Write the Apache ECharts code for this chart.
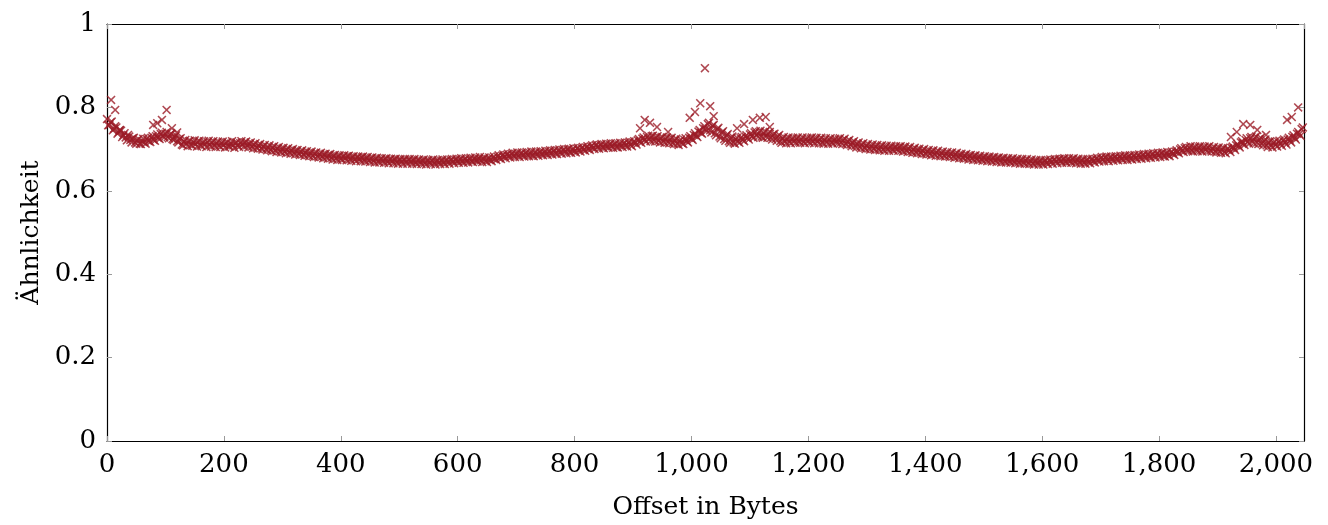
<!DOCTYPE html>
<html>
<head>
<meta charset="utf-8">
<script src="https://cdn.jsdelivr.net/npm/echarts@6/dist/echarts.min.js"></script>
<style>
html,body{margin:0;padding:0;background:#fff;}
#chart{width:1328px;height:525px;}
</style>
</head>
<body>
<div id="chart"></div>
<script>
// Offset step of the sampled points (bytes)
const offsetStep = 4;
// Similarity values at offsets 0,4,8,...,2044 (16 per row)
const similarityA = [
0.772,0.758,0.766,0.749,0.752,0.741,0.744,0.733,0.728,0.734,0.722,0.726,0.716,0.722,0.713,0.719,
0.716,0.724,0.719,0.727,0.722,0.731,0.727,0.736,0.731,0.737,0.729,0.735,0.724,0.730,0.719,0.724,
0.711,0.718,0.713,0.719,0.710,0.716,0.712,0.718,0.709,0.715,0.711,0.717,0.710,0.716,0.709,0.715,
0.708,0.714,0.710,0.715,0.707,0.713,0.709,0.715,0.708,0.714,0.711,0.716,0.709,0.713,0.706,0.711,
0.704,0.709,0.702,0.707,0.700,0.705,0.698,0.704,0.697,0.702,0.695,0.701,0.694,0.699,0.693,0.697,
0.691,0.696,0.689,0.694,0.688,0.692,0.686,0.691,0.684,0.690,0.683,0.688,0.682,0.687,0.681,0.686,
0.679,0.684,0.678,0.683,0.677,0.682,0.678,0.683,0.676,0.681,0.675,0.680,0.676,0.680,0.674,0.679,
0.673,0.678,0.672,0.677,0.671,0.676,0.672,0.676,0.670,0.675,0.671,0.675,0.669,0.674,0.670,0.674,
0.669,0.674,0.670,0.673,0.668,0.673,0.669,0.672,0.667,0.672,0.668,0.672,0.667,0.671,0.668,0.672,
0.668,0.672,0.669,0.673,0.670,0.674,0.671,0.675,0.671,0.675,0.672,0.676,0.671,0.676,0.673,0.677,
0.673,0.677,0.672,0.676,0.674,0.678,0.677,0.682,0.679,0.684,0.682,0.686,0.683,0.688,0.684,0.688,
0.684,0.689,0.685,0.690,0.686,0.690,0.685,0.691,0.687,0.692,0.688,0.692,0.689,0.694,0.690,0.695,
0.690,0.696,0.692,0.697,0.694,0.699,0.693,0.698,0.695,0.701,0.697,0.702,0.699,0.704,0.701,0.706,
0.703,0.709,0.705,0.710,0.704,0.709,0.706,0.711,0.707,0.712,0.705,0.711,0.708,0.713,0.709,0.715,
0.710,0.716,0.715,0.721,0.718,0.725,0.722,0.729,0.724,0.731,0.722,0.728,0.720,0.727,0.719,0.725,
0.717,0.724,0.715,0.722,0.713,0.720,0.714,0.722,0.719,0.727,0.725,0.734,0.732,0.742,0.739,0.750,
0.748,0.760,0.745,0.756,0.738,0.748,0.730,0.740,0.724,0.733,0.719,0.727,0.716,0.724,0.718,0.726,
0.722,0.730,0.727,0.735,0.731,0.740,0.733,0.741,0.730,0.739,0.731,0.738,0.727,0.735,0.724,0.731,
0.719,0.726,0.718,0.725,0.717,0.724,0.719,0.725,0.718,0.724,0.717,0.723,0.719,0.725,0.718,0.724,
0.718,0.724,0.716,0.722,0.717,0.723,0.716,0.721,0.718,0.723,0.716,0.722,0.713,0.719,0.711,0.716,
0.708,0.713,0.705,0.711,0.703,0.709,0.702,0.708,0.701,0.707,0.700,0.706,0.699,0.705,0.700,0.705,
0.699,0.704,0.700,0.705,0.698,0.703,0.697,0.702,0.695,0.700,0.693,0.698,0.692,0.697,0.690,0.695,
0.689,0.694,0.688,0.693,0.686,0.691,0.685,0.690,0.684,0.689,0.683,0.688,0.682,0.686,0.680,0.685,
0.679,0.684,0.678,0.683,0.677,0.681,0.676,0.680,0.675,0.679,0.674,0.679,0.673,0.678,0.672,0.677,
0.671,0.676,0.671,0.675,0.670,0.674,0.669,0.673,0.668,0.673,0.667,0.672,0.666,0.671,0.667,0.671,
0.666,0.671,0.667,0.672,0.669,0.674,0.670,0.675,0.671,0.676,0.670,0.675,0.671,0.676,0.670,0.674,
0.669,0.673,0.668,0.673,0.669,0.674,0.671,0.676,0.673,0.678,0.675,0.680,0.674,0.679,0.676,0.680,
0.676,0.681,0.677,0.682,0.678,0.682,0.677,0.683,0.679,0.684,0.680,0.685,0.681,0.686,0.682,0.687,
0.683,0.688,0.685,0.690,0.684,0.689,0.686,0.691,0.689,0.694,0.693,0.699,0.696,0.702,0.698,0.703,
0.697,0.703,0.698,0.704,0.697,0.703,0.699,0.704,0.697,0.702,0.695,0.701,0.694,0.700,0.693,0.699,
0.697,0.703,0.702,0.709,0.708,0.716,0.714,0.722,0.717,0.726,0.718,0.727,0.716,0.724,0.713,0.720,
0.709,0.716,0.708,0.715,0.710,0.717,0.712,0.720,0.715,0.723,0.720,0.729,0.727,0.737,0.736,0.748
];
// Similarity values at offsets 2,6,10,...,2046 (16 per row)
const similarityB = [
0.757,0.764,0.745,0.755,0.737,0.745,0.729,0.738,0.721,0.730,0.716,0.727,0.713,0.724,0.712,0.725,
0.713,0.727,0.717,0.731,0.720,0.735,0.724,0.739,0.728,0.741,0.726,0.737,0.722,0.733,0.716,0.726,
0.709,0.722,0.707,0.720,0.708,0.721,0.706,0.720,0.707,0.719,0.705,0.720,0.706,0.719,0.705,0.718,
0.705,0.718,0.704,0.717,0.706,0.719,0.703,0.716,0.705,0.719,0.706,0.718,0.704,0.716,0.702,0.714,
0.701,0.712,0.699,0.710,0.697,0.709,0.695,0.707,0.693,0.705,0.692,0.703,0.690,0.702,0.689,0.700,
0.687,0.698,0.686,0.697,0.684,0.695,0.683,0.694,0.681,0.692,0.680,0.691,0.678,0.689,0.677,0.688,
0.675,0.686,0.674,0.685,0.674,0.685,0.673,0.684,0.672,0.683,0.671,0.682,0.671,0.682,0.670,0.681,
0.669,0.680,0.668,0.679,0.668,0.678,0.667,0.678,0.666,0.677,0.666,0.677,0.665,0.676,0.665,0.676,
0.665,0.676,0.665,0.676,0.664,0.675,0.664,0.675,0.663,0.674,0.664,0.675,0.663,0.674,0.664,0.675,
0.664,0.675,0.665,0.676,0.666,0.677,0.667,0.678,0.667,0.678,0.668,0.679,0.669,0.680,0.670,0.681,
0.669,0.680,0.669,0.680,0.671,0.682,0.674,0.685,0.676,0.687,0.678,0.689,0.680,0.691,0.681,0.692,
0.681,0.692,0.682,0.693,0.683,0.694,0.683,0.694,0.684,0.695,0.685,0.696,0.686,0.697,0.687,0.698,
0.688,0.699,0.689,0.700,0.690,0.701,0.691,0.702,0.692,0.703,0.694,0.705,0.696,0.707,0.698,0.709,
0.700,0.711,0.701,0.712,0.702,0.713,0.703,0.714,0.703,0.714,0.704,0.715,0.705,0.716,0.706,0.718,
0.707,0.719,0.711,0.724,0.715,0.728,0.718,0.732,0.719,0.732,0.718,0.731,0.716,0.729,0.715,0.728,
0.714,0.727,0.712,0.725,0.710,0.723,0.712,0.726,0.716,0.731,0.722,0.738,0.729,0.746,0.737,0.755,
0.744,0.763,0.740,0.758,0.733,0.751,0.726,0.743,0.720,0.736,0.715,0.730,0.713,0.727,0.715,0.729,
0.719,0.733,0.723,0.738,0.727,0.743,0.729,0.744,0.727,0.742,0.727,0.741,0.723,0.737,0.720,0.734,
0.715,0.729,0.714,0.728,0.714,0.727,0.715,0.728,0.715,0.728,0.714,0.727,0.715,0.728,0.714,0.727,
0.714,0.727,0.713,0.726,0.713,0.726,0.713,0.725,0.714,0.726,0.712,0.725,0.710,0.722,0.707,0.719,
0.704,0.716,0.702,0.714,0.700,0.712,0.699,0.711,0.698,0.710,0.697,0.709,0.696,0.708,0.696,0.708,
0.696,0.707,0.696,0.707,0.694,0.706,0.693,0.705,0.691,0.703,0.690,0.701,0.688,0.700,0.687,0.698,
0.685,0.697,0.684,0.696,0.683,0.694,0.682,0.693,0.681,0.692,0.679,0.691,0.678,0.689,0.677,0.688,
0.675,0.686,0.674,0.685,0.673,0.684,0.672,0.683,0.671,0.682,0.670,0.681,0.669,0.680,0.668,0.679,
0.668,0.678,0.667,0.678,0.666,0.677,0.665,0.676,0.665,0.676,0.664,0.675,0.663,0.674,0.663,0.674,
0.663,0.674,0.664,0.675,0.665,0.676,0.666,0.677,0.667,0.678,0.667,0.678,0.667,0.678,0.666,0.677,
0.665,0.676,0.665,0.676,0.666,0.677,0.668,0.679,0.670,0.681,0.671,0.682,0.671,0.682,0.672,0.683,
0.673,0.684,0.674,0.685,0.674,0.685,0.675,0.686,0.676,0.687,0.677,0.688,0.678,0.689,0.679,0.690,
0.680,0.691,0.681,0.692,0.682,0.693,0.683,0.694,0.686,0.697,0.690,0.702,0.693,0.705,0.695,0.707,
0.694,0.706,0.695,0.707,0.694,0.706,0.695,0.707,0.694,0.705,0.692,0.704,0.691,0.703,0.690,0.702,
0.693,0.706,0.698,0.712,0.704,0.719,0.710,0.726,0.713,0.729,0.714,0.730,0.712,0.727,0.709,0.723,
0.705,0.719,0.704,0.718,0.706,0.720,0.708,0.723,0.711,0.727,0.716,0.733,0.723,0.741,0.732,0.752
];
// Isolated high points above the band
const outlierOffsets = [7,14,22,79,86,94,102,111,120,912,920,929,941,960,997,1006,1015,1023,1032,1038,1078,1090,1105,1117,1127,1134,1923,1933,1944,1956,1968,1983,2019,2027,2038];
const outlierValues  = [0.818,0.794,0.746,0.758,0.762,0.770,0.794,0.750,0.740,0.750,0.770,0.763,0.753,0.741,0.775,0.789,0.810,0.894,0.803,0.779,0.750,0.760,0.770,0.775,0.777,0.753,0.729,0.741,0.760,0.758,0.746,0.734,0.770,0.777,0.800];
// Axis ticks
const xTicks = [0,200,400,600,800,1000,1200,1400,1600,1800,2000];
const yTicks = [0,0.2,0.4,0.6,0.8,1];

const points = [];
similarityA.forEach((v, i) => points.push([i * offsetStep, v]));
similarityB.forEach((v, i) => points.push([i * offsetStep + 2, v]));
outlierOffsets.forEach((x, i) => points.push([x, outlierValues[i]]));

const markColor = '#9b1b27';
const font = 'DejaVu Serif';
const crossPath = 'path://M0,1.2L1.2,0L5,3.8L8.8,0L10,1.2L6.2,5L10,8.8L8.8,10L5,6.2L1.2,10L0,8.8L3.8,5Z';

const chart = echarts.init(document.getElementById('chart'), null, {renderer: 'canvas'});
const fmtX = v => xTicks.includes(v) ? v.toLocaleString('en-US') : '';
const fmtY = v => yTicks.some(t => Math.abs(t - v) < 1e-9) ? String(+v.toFixed(1)) : '';
const tickStyle = {show: true, inside: true, length: 5, lineStyle: {color: '#9a9a9a', width: 1}};
const lineStyle = {show: true, onZero: false, lineStyle: {color: '#000', width: 1.2}};
chart.setOption({
  animation: false,
  backgroundColor: '#fff',
  grid: {left: 107, right: 24, top: 24, bottom: 84, containLabel: false, outerBoundsMode: 'none'},
  xAxis: [{
    type: 'value', min: 0, max: 2048, interval: 200, position: 'bottom',
    axisLine: lineStyle, axisTick: tickStyle, splitLine: {show: false},
    axisLabel: {formatter: fmtX, color: '#000', fontFamily: font, fontSize: 26, margin: 11, showMaxLabel: false},
    name: 'Offset in Bytes', nameLocation: 'middle', nameGap: 54,
    nameTextStyle: {color: '#000', fontFamily: font, fontSize: 25}
  }, {
    type: 'value', min: 0, max: 2048, interval: 200, position: 'top',
    axisLine: lineStyle, axisTick: tickStyle, axisLabel: {show: false}, splitLine: {show: false}
  }],
  yAxis: [{
    type: 'value', min: 0, max: 1, interval: 0.2, position: 'left',
    axisLine: lineStyle, axisTick: tickStyle, splitLine: {show: false},
    axisLabel: {formatter: fmtY, color: '#000', fontFamily: font, fontSize: 26, margin: 11},
    name: 'Ähnlichkeit', nameLocation: 'middle', nameGap: 55, nameRotate: 90,
    nameTextStyle: {color: '#000', fontFamily: font, fontSize: 25}
  }, {
    type: 'value', min: 0, max: 1, interval: 0.2, position: 'right',
    axisLine: lineStyle, axisTick: tickStyle, axisLabel: {show: false}, splitLine: {show: false}
  }],
  series: [{
    type: 'scatter',
    data: points,
    symbol: crossPath,
    symbolSize: 9,
    itemStyle: {color: markColor},
    silent: true
  }]
});
</script>
</body>
</html>
